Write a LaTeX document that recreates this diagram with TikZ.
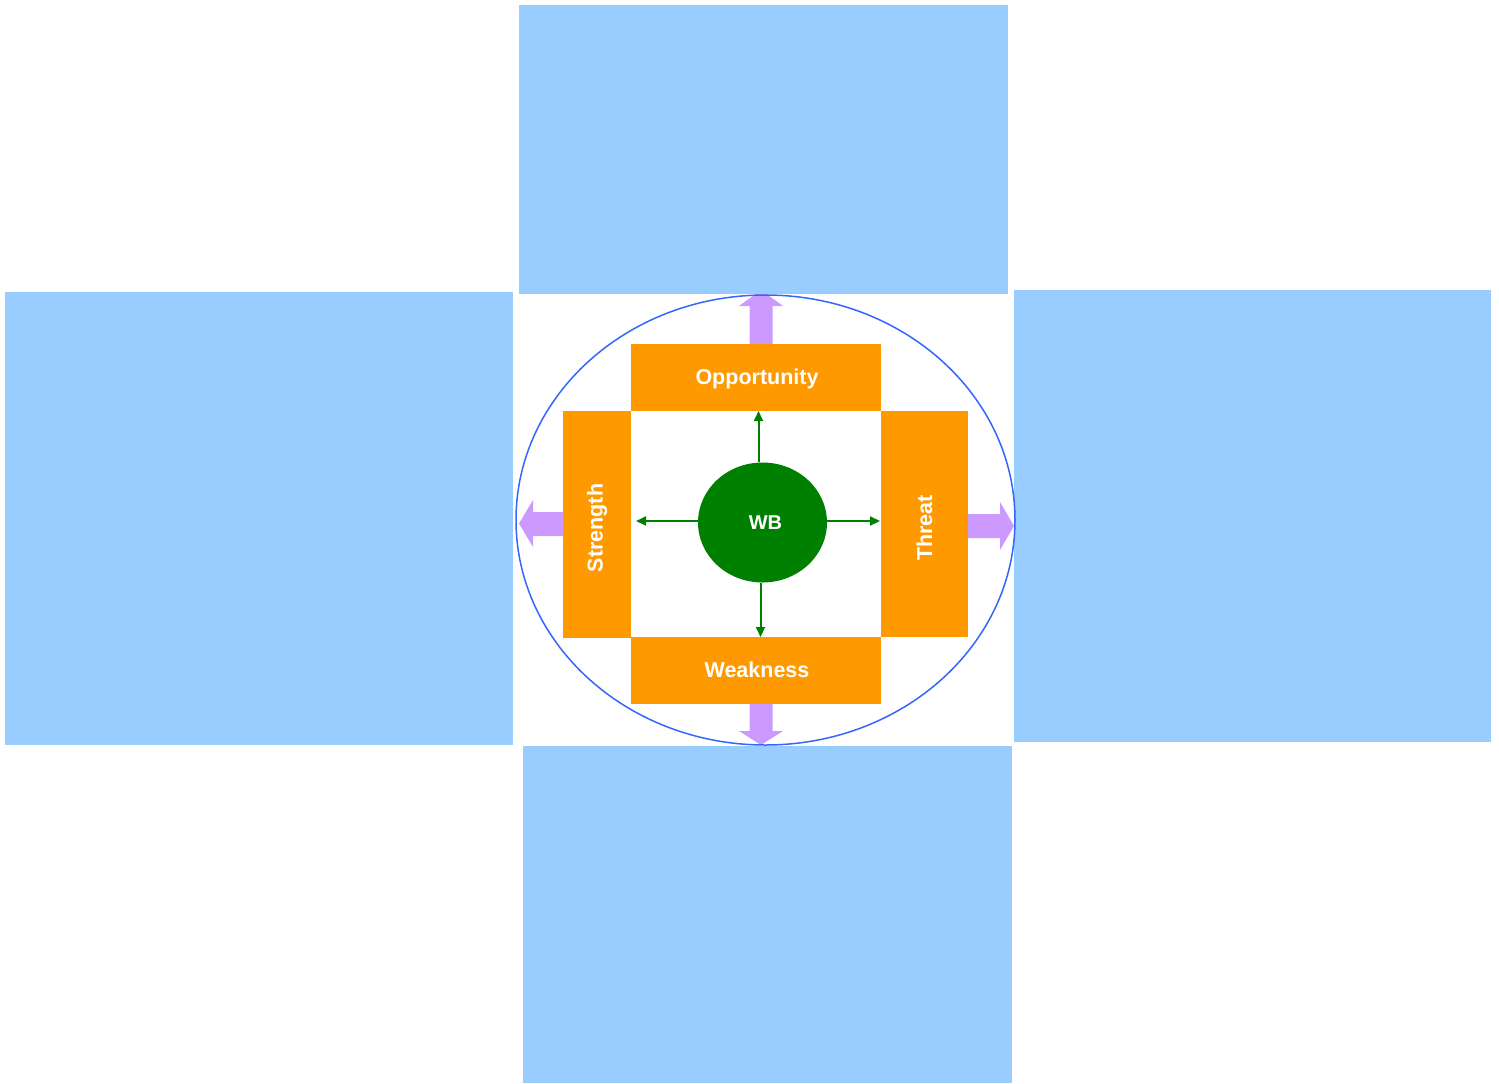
\documentclass[tikz,border=0pt]{standalone}
\usepackage{fontspec}
\setmainfont{Liberation Sans}
\usetikzlibrary{arrows.meta,shapes.geometric}
\definecolor{boxblue}{HTML}{99CCFF}
\definecolor{swot}{HTML}{FF9900}
\definecolor{wbgreen}{HTML}{008000}
\definecolor{purp}{HTML}{CC99FF}
\definecolor{ringblue}{HTML}{3366FF}
\tikzset{
  infobox/.style={fill=boxblue,draw=none},
  swotbox/.style={fill=swot,draw=none},
  swotlabel/.style={text=white,font=\fontsize{21.5}{21.5}\selectfont\bfseries,inner sep=0pt},
  greenarrow/.style={draw=wbgreen,line width=2pt,-{Triangle[length=10pt,width=9pt]}},
  bigarrow/.style={fill=purp,draw=none}
}
\begin{document}
\begin{tikzpicture}[x=1pt,y=-1pt]
\useasboundingbox (0,0) rectangle (1499,1084);
% purple arrows (under the outer boxes)
\fill[bigarrow] (749.5,345) -- (749.5,306) -- (739,306) -- (761,290) -- (783,306) -- (772.5,306) -- (772.5,345) -- cycle;
\fill[bigarrow] (749.5,704) -- (749.5,731) -- (739,731) -- (761,745) -- (783,731) -- (772.5,731) -- (772.5,704) -- cycle;
\fill[bigarrow] (565,512) -- (533,512) -- (533,500) -- (519,523.5) -- (533,547) -- (533,536) -- (565,536) -- cycle;
\fill[bigarrow] (968,514) -- (1000,514) -- (1000,502) -- (1014,526) -- (1000,550) -- (1000,538) -- (968,538) -- cycle;
% outer info boxes
\fill[infobox] (519,5) rectangle (1008,294);
\fill[infobox] (5,292) rectangle (513,745);
\fill[infobox] (1014,290) rectangle (1491,742);
\fill[infobox] (523,746) rectangle (1012,1083);
% SWOT boxes
\node[swotbox,minimum width=250pt,minimum height=67pt,inner sep=0pt] (opp) at (756,377.5) {};
\node[swotbox,minimum width=250pt,minimum height=67pt,inner sep=0pt] (weak) at (756,670.5) {};
\node[swotbox,minimum width=68pt,minimum height=227pt,inner sep=0pt] (str) at (597,524.5) {};
\node[swotbox,minimum width=87pt,minimum height=226pt,inner sep=0pt] (thr) at (924.5,524) {};
\node[swotlabel] at (757,379) {Opportunity};
\node[swotlabel] at (757,670) {Weakness};
\node[swotlabel,rotate=90] at (597,528) {Strength};
\node[swotlabel,rotate=90] at (924.5,528) {Threat};
% ring
\node[ellipse,draw=ringblue,line width=1.5pt,minimum width=499pt,minimum height=450pt,inner sep=0pt] (ring) at (765.5,520) {};
% centre
\node[ellipse,fill=wbgreen,minimum width=129pt,minimum height=120pt,inner sep=0pt] (wb) at (762.5,522.5) {};
\node[text=white,font=\fontsize{20}{20}\selectfont\bfseries,inner sep=0pt] at (765.5,522.5) {WB};
\coordinate (tu) at (758.5,411);
\coordinate (td) at (760.5,637);
\coordinate (tl) at (636,521);
\coordinate (tr) at (880,521);
\draw[greenarrow] (wb.north -| tu) -- (tu);
\draw[greenarrow] (wb.south -| td) -- (td);
\draw[greenarrow] (wb.west |- tl) -- (tl);
\draw[greenarrow] (wb.east |- tr) -- (tr);
\end{tikzpicture}
\end{document}
